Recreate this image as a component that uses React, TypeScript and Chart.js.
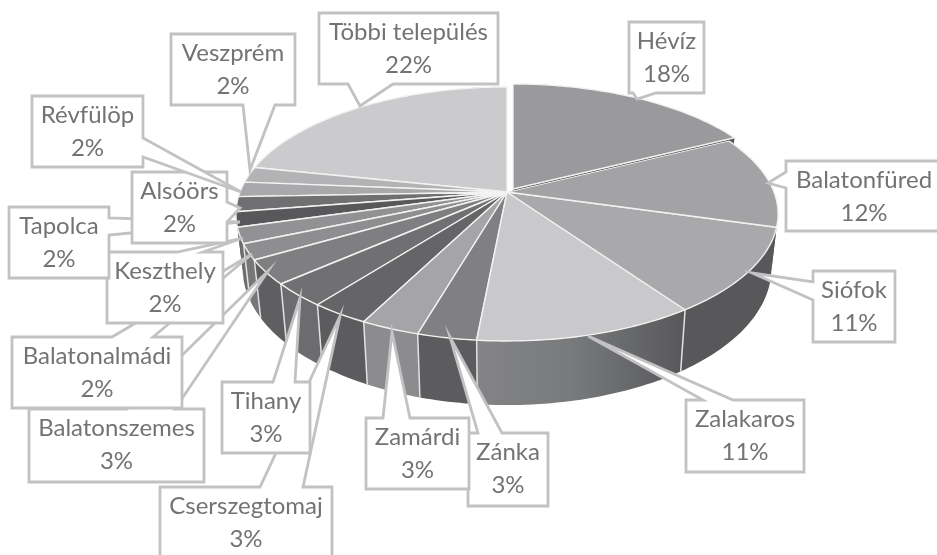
import React, { useEffect, useRef } from "react";
import { Chart, registerables } from "chart.js";

Chart.register(...registerables);

const categories = [
  "Hévíz", "Balatonfüred", "Siófok", "Zalakaros", "Zánka", "Zamárdi", "Cserszegtomaj", "Tihany",
  "Balatonszemes", "Balatonalmádi", "Keszthely", "Tapolca", "Alsóörs", "Révfülöp", "Veszprém", "Többi település",
];
const shares = [17.6, 11.8, 10.9, 11.2, 3.0, 3.0, 3.0, 3.0, 3.1, 2.0, 2.0, 1.9, 1.9, 1.9, 2.0, 21.7];
const topColors = [
  "#9a9a9c", "#a3a3a5", "#a9a9ab", "#c9c9cb", "#808082", "#a5a5a7", "#656567", "#707072",
  "#7f7f81", "#8e8e90", "#929294", "#58585a", "#707072", "#a9a9ab", "#b3b3b5", "#cbcbcd",
];
const sideColors = [
  "#5a5a5c", "#565658", "#58585a", "#7c7c7e", "#5c5c5e", "#8c8c8e", "#5c5c5e", "#6c6c6e",
  "#5f5f61", "#777779", "#6c6c6e", "#404042", "#555557", "#808082", "#888", "#909092",
];

// [left, top, right, bottom, wedge side, wedge start, wedge end, tip x, tip y]
type Callout = [number, number, number, number, "top" | "right" | "bottom" | "left", number, number, number, number];
const callouts: Callout[] = [
  [629, 22, 704, 93, "bottom", 633, 656, 637, 99],
  [786, 161, 945, 231, "left", 172, 188, 768, 183],
  [813, 271, 895, 342, "left", 282, 300, 752, 273],
  [686, 400, 804, 472, "top", 703, 733, 588, 336],
  [468, 433, 548, 506, "top", 478, 502, 450, 337],
  [366, 418, 469, 489, "top", 383, 410, 392, 332],
  [160, 487, 332, 560, "top", 260, 303, 340, 316],
  [222, 382, 310, 453, "top", 273, 295, 300, 298],
  [29, 409, 204, 482, "top", 127, 175, 268, 271],
  [12, 337, 182, 408, "top", 112, 153, 252, 254],
  [107, 252, 223, 323, "top", 177, 203, 243, 238],
  [9, 207, 109, 278, "right", 218, 235, 240, 222],
  [132, 172, 227, 243, "right", 202, 222, 240, 208],
  [32, 96, 143, 167, "right", 138, 157, 241, 192],
  [171, 34, 295, 105, "bottom", 243, 275, 250, 170],
  [319, 13, 498, 84, "bottom", 348, 393, 360, 106],
];

const CX = 507, CY = 192, RX = 267, RY = 123.2, PERSP = 0.173, DEPTH = 53, SHRINK = 0.975;
const EXPLODE_X = 6, EXPLODE_Y = -3;

function project(t: number, bottom: boolean, dx: number, dy: number): [number, number] {
  const X = Math.cos(t), Y = Math.sin(t);
  const w = 1 - PERSP * Y;
  return [
    CX + dx + ((bottom ? SHRINK : 1) * RX * X) / w,
    CY + dy + (RY * Y + (bottom ? DEPTH : 0)) / w,
  ];
}

function arcPoints(t0: number, t1: number, bottom: boolean, dx: number, dy: number) {
  const n = Math.max(2, Math.ceil(Math.abs(t1 - t0) / 0.02));
  const pts: [number, number][] = [];
  for (let i = 0; i <= n; i++) pts.push(project(t0 + ((t1 - t0) * i) / n, bottom, dx, dy));
  return pts;
}

const projectedPie = {
  id: "projectedPie",
  beforeDatasetsDraw(chart: any) {
    const ctx: CanvasRenderingContext2D = chart.ctx;
    const arcs: any[] = chart.getDatasetMeta(0).data;
    const off = (i: number) => (i === 0 ? [EXPLODE_X, EXPLODE_Y] : [0, 0]);
    ctx.save();
    ctx.lineJoin = "round";

    // walls, back to front
    const order = arcs
      .map((_, i) => i)
      .sort((p, q) =>
        Math.sin((arcs[p].startAngle + arcs[p].endAngle) / 2) - Math.sin((arcs[q].startAngle + arcs[q].endAngle) / 2));
    for (const i of order) {
      const [dx, dy] = off(i);
      const el = arcs[i];
      const upper = arcPoints(el.startAngle, el.endAngle, false, dx, dy);
      const lower = arcPoints(el.endAngle, el.startAngle, true, dx, dy);
      ctx.beginPath();
      [...upper, ...lower].forEach(([x, y], k) => (k ? ctx.lineTo(x, y) : ctx.moveTo(x, y)));
      ctx.closePath();
      if (i === 3) {
        const g = ctx.createLinearGradient(upper[upper.length - 1][0], 0, upper[0][0], 0);
        g.addColorStop(0, "#848486");
        g.addColorStop(0.45, "#787a7c");
        g.addColorStop(1, "#58585a");
        ctx.fillStyle = g;
      } else {
        ctx.fillStyle = sideColors[i];
      }
      ctx.fill();
    }
    // light seams between front walls
    ctx.strokeStyle = "#e2e2e2";
    ctx.lineWidth = 1.5;
    arcs.forEach((el, i) => {
      const t = el.startAngle;
      if (Math.sin(t) > 0.28 && i > 0) {
        const [x0, y0] = project(t, false, 0, 0);
        const [x1, y1] = project(t, true, 0, 0);
        ctx.beginPath();
        ctx.moveTo(x0, y0);
        ctx.lineTo(x1, y1);
        ctx.stroke();
      }
    });

    // top faces
    const face = (i: number) => {
      const [dx, dy] = off(i);
      const el = arcs[i];
      ctx.beginPath();
      ctx.moveTo(CX + dx, CY + dy);
      arcPoints(el.startAngle, el.endAngle, false, dx, dy).forEach(([x, y]) => ctx.lineTo(x, y));
      ctx.closePath();
      ctx.fillStyle = el.options.backgroundColor;
      ctx.fill();
      ctx.strokeStyle = "#f2f2f2";
      ctx.lineWidth = 1.4;
      ctx.stroke();
    };
    for (let i = arcs.length - 1; i >= 1; i--) face(i);
    // dark gap under the pulled-out slice
    const [ex, ey] = project(arcs[0].endAngle, false, 0, 0);
    ctx.strokeStyle = "#444446";
    ctx.lineWidth = 1;
    ctx.beginPath();
    ctx.moveTo(CX + EXPLODE_X, CY + EXPLODE_Y + 1);
    ctx.lineTo(ex + EXPLODE_X, ey + EXPLODE_Y + 1);
    ctx.stroke();
    face(0);

    // callouts
    const total = shares.reduce((s, v) => s + v, 0);
    callouts.forEach((c, i) => {
      const [l, t, r, b, side, s0, s1, tx, ty] = c;
      ctx.beginPath();
      ctx.moveTo(l, t);
      if (side === "top") { ctx.lineTo(s0, t); ctx.lineTo(tx, ty); ctx.lineTo(s1, t); }
      ctx.lineTo(r, t);
      if (side === "right") { ctx.lineTo(r, s0); ctx.lineTo(tx, ty); ctx.lineTo(r, s1); }
      ctx.lineTo(r, b);
      if (side === "bottom") { ctx.lineTo(s1, b); ctx.lineTo(tx, ty); ctx.lineTo(s0, b); }
      ctx.lineTo(l, b);
      if (side === "left") { ctx.lineTo(l, s1); ctx.lineTo(tx, ty); ctx.lineTo(l, s0); }
      ctx.closePath();
      ctx.fillStyle = "#ffffff";
      ctx.fill();
      ctx.strokeStyle = "#c2c2c4";
      ctx.lineWidth = 2.8;
      ctx.lineJoin = "miter";
      ctx.stroke();
      const mid = i === 1 ? 864 : (l + r) / 2;
      ctx.fillStyle = "#737376";
      ctx.font = "24px Lato";
      ctx.textAlign = "center";
      ctx.textBaseline = "alphabetic";
      ctx.fillText(categories[i], mid, t + 27);
      ctx.fillText(`${Math.round((shares[i] / total) * 100)}%`, mid, t + 60);
    });
    ctx.restore();
    return false;
  },
};

export default function App() {
  const ref = useRef<HTMLCanvasElement>(null);
  useEffect(() => {
    const chart = new Chart(ref.current!, {
      type: "pie",
      data: { labels: categories, datasets: [{ data: shares, backgroundColor: topColors, borderWidth: 0 }] },
      options: {
        responsive: false,
        animation: false,
        events: [],
        plugins: { legend: { display: false }, tooltip: { enabled: false } },
      },
      plugins: [projectedPie],
    } as any);
    return () => chart.destroy();
  }, []);
  return (
    <div style={{ position: "fixed", left: 0, top: 0, width: 937, height: 555, background: "#fff", overflow: "hidden" }}>
      <canvas ref={ref} width={937} height={555} style={{ display: "block" }} />
    </div>
  );
}
